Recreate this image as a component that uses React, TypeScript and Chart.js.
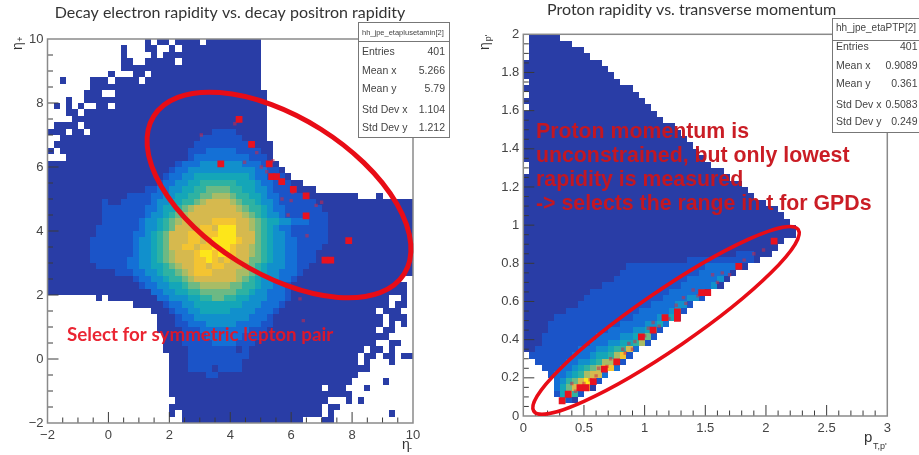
import React, { useEffect, useRef } from "react";
import { Chart, registerables } from "chart.js";
Chart.register(...registerables);

// colour levels of the heat map, low to high
const levelColors = ["#293da6","#1b54c8","#1470d6","#1190cc","#14a6b8","#2eb2a2","#6cb984","#a8bc66","#d6b94e","#f3c432","#fde61a"];

// each row, top to bottom: "firstBin:level" runs, x = empty
const leftRows = [
"16:0 17:x 18:0 20:x 21:0 25:x 26:0 35:x",
"12:0 13:x 16:0 18:x 20:0 21:x 22:0 35:x",
"12:0 13:x 17:0 18:x 19:0 35:x",
"12:0 14:x 16:0 21:x 22:0 35:x",
"12:0 35:x",
"10:0 11:x 14:0 16:x 17:0 35:x",
"2:0 3:x 7:0 10:x 11:0 15:x 16:0 35:x",
"7:0 35:x",
"6:0 9:x 11:0 36:x",
"3:0 4:x 6:0 36:x",
"1:0 2:x 3:0 4:x 5:0 6:x 8:0 10:x 11:0 36:x",
"3:0 5:x 6:0 36:x",
"4:0 36:x",
"1:0 5:x 6:0 36:x",
"0:0 3:x 4:0 6:x 7:0 27:1 31:0 36:x",
"2:0 25:1 32:0 36:x",
"1:0 24:1 33:0 37:x",
"0:0 1:x 2:0 23:1 26:2 31:1 35:0 37:x",
"3:0 23:1 24:2 33:1 36:0 37:x",
"0:0 21:1 22:2 25:3 32:2 35:1 37:0 38:x",
"0:0 20:1 21:2 23:3 34:2 36:1 38:0 39:x",
"0:0 19:1 20:2 22:3 24:4 33:3 34:2 36:1 39:0 40:x",
"0:0 18:1 19:2 21:3 23:4 25:5 31:4 34:3 35:2 37:1 40:0 42:x",
"0:0 16:1 18:2 20:3 22:4 24:5 26:6 30:5 32:4 34:3 36:2 37:1 41:0 44:x",
"0:0 13:1 17:2 19:3 21:4 23:5 25:6 27:7 30:6 31:5 33:4 35:3 36:2 38:1 43:0 51:x 54:0 55:x",
"0:0 9:1 10:0 12:1 17:2 18:3 20:4 22:5 24:6 25:7 26:8 30:7 31:6 32:5 34:4 35:3 37:2 38:1 44:0",
"0:0 9:1 16:2 18:3 19:4 21:5 22:6 23:7 24:8 31:7 32:6 33:5 35:4 36:3 37:2 39:1 45:0",
"0:0 9:1 16:2 17:3 19:4 20:5 21:6 22:7 23:8 32:7 33:6 34:5 35:4 36:3 38:2 39:1 46:0",
"0:0 9:1 15:2 16:3 18:4 19:5 20:6 21:7 22:8 27:9 31:8 33:7 34:6 35:5 36:4 38:3 40:2 43:1 46:0",
"0:0 8:1 15:2 16:3 18:4 19:5 20:6 21:8 25:9 27:8 28:10 31:8 33:7 34:6 35:5 36:4 37:3 38:2 40:1 46:0",
"0:0 8:1 14:2 16:3 17:4 18:5 19:6 20:8 23:9 28:10 31:8 34:6 35:5 36:4 37:3 39:2 40:1 46:0",
"0:0 7:1 14:2 15:3 17:4 18:5 19:6 20:8 23:9 25:8 26:9 27:10 31:9 32:8 34:6 35:5 36:4 37:3 39:2 41:1 46:0",
"0:0 7:1 14:2 15:3 17:4 18:5 19:6 20:8 22:9 24:8 25:9 27:10 30:9 31:8 33:7 34:6 35:5 36:4 37:3 39:2 41:1 45:0",
"0:0 7:1 14:2 15:3 17:4 18:5 19:6 20:7 21:8 24:9 25:10 27:9 28:10 30:9 31:8 33:7 34:6 35:5 36:4 37:3 39:2 41:1 44:0",
"0:0 7:1 13:2 15:3 17:4 18:5 19:6 20:7 21:8 24:9 26:10 27:9 28:8 29:9 30:8 33:6 35:5 36:4 37:3 39:2 41:1 44:0",
"0:0 8:1 13:2 15:3 17:4 19:5 20:6 21:7 22:8 24:9 26:8 27:9 29:8 32:7 33:6 34:5 35:4 36:3 39:2 41:1 43:0",
"0:0 11:1 14:2 16:3 18:4 19:5 21:6 22:7 23:8 24:9 27:8 31:7 33:6 34:5 35:4 36:3 38:2 41:1 42:0",
"0:0 14:1 15:2 17:3 19:4 20:5 22:6 23:7 24:8 31:7 32:6 33:5 34:4 35:3 38:2 40:1 41:0 58:x",
"0:0 15:1 16:2 18:3 20:4 22:5 23:6 25:7 30:6 32:5 34:4 35:3 37:2 39:1 40:0 59:x",
"0:0 17:2 19:3 21:4 23:5 25:6 31:5 33:4 34:3 36:2 39:1 40:0 59:x",
"8:0 9:x 10:0 18:2 20:3 23:4 25:5 27:6 29:5 31:4 33:3 36:2 39:1 40:0 56:x 58:0 59:x",
"14:0 19:1 20:2 22:3 24:4 32:3 35:2 38:1 39:0 56:x 57:0 59:x",
"17:0 20:1 21:2 23:3 25:4 30:3 34:2 37:1 38:0 54:x 55:0 58:x",
"18:0 21:1 22:2 24:3 33:2 36:1 37:0 55:x 56:0 59:x",
"18:0 21:1 23:2 26:3 31:2 35:1 37:0 55:x 56:0 57:x 58:0 59:x",
"18:0 22:1 25:2 33:1 36:0 54:x 55:0 57:x",
"19:0 22:1 26:2 32:1 35:0 56:x",
"19:0 22:1 27:2 31:1 34:0 54:x 56:0 58:x",
"19:0 23:1 31:0 32:1 33:0 52:x 53:0 55:x 56:0 57:x",
"20:0 23:1 33:0 51:x 52:0 54:x 55:0 57:x 58:0",
"20:0 23:1 32:0 51:x 52:0 53:x 56:0 57:x",
"20:0 23:1 27:0 28:1 32:0 53:x",
"20:0 26:1 28:0 51:x",
"20:0 50:x 55:0 56:x",
"20:0 45:x 46:0 49:x 52:0 53:x",
"20:0 50:x",
"21:0 46:x 49:0 50:x 51:0 52:x",
"20:0 45:x 46:0 48:x",
"20:0 21:x 22:0 45:x 46:0 47:x 56:0 57:x",
"22:0 42:x 45:0 47:x",
];

const rightRows = [
"1:0 6:x","1:0 8:x","1:0 10:x","1:0 11:x","0:0 13:x","0:0 14:x","0:0 15:x","1:0 16:x","0:0 18:x","1:0 19:x",
"0:0 20:x","1:0 21:x","0:0 22:x","0:0 23:x","0:0 25:x","0:0 26:x","0:0 27:x","0:0 28:x","0:0 29:x","0:0 30:x",
"1:0 31:x","1:0 33:x","0:0 34:x","0:0 36:x","0:0 37:x","0:0 38:x","0:0 40:x","0:0 42:x","0:0 43:x","0:0 44:x",
"0:0 45:x","0:0 45:x","0:0 43:x","0:0 42:x","0:0 35:1 38:0 41:x",
"0:0 27:1 38:0 39:x",
"0:0 17:1 30:2 36:0 37:x",
"0:0 16:1 29:2 34:0 35:x",
"0:0 15:1 27:2 32:3 33:0 34:x",
"0:0 13:1 26:2 31:3 32:0 33:x",
"0:0 11:1 24:2 29:3 30:0 31:x",
"0:0 10:1 23:2 27:3 29:1 30:x",
"0:0 9:1 21:2 25:3 27:1 28:x",
"0:0 7:1 19:2 24:3 25:4 26:1 27:x",
"0:0 5:1 18:2 22:3 24:4 25:1 26:x",
"0:0 4:1 16:2 20:3 22:4 23:2 24:x",
"0:0 4:1 14:2 18:3 20:4 21:5 22:1 23:x",
"0:0 3:1 12:2 16:3 18:4 19:5 20:6 21:1 22:x",
"0:0 3:1 11:2 14:3 16:4 18:5 19:7 20:1 21:x",
"0:0 2:1 9:2 12:3 14:4 15:5 17:8 18:2 19:x",
"1:1 8:2 11:3 12:4 14:5 15:7 16:9 17:1 18:x",
"2:1 7:2 9:3 11:4 12:5 13:7 15:9 16:1 17:x",
"3:1 6:2 8:3 9:4 10:5 11:6 12:7 13:9 15:2 16:x",
"4:1 5:2 7:3 8:4 9:5 10:7 11:8 13:2 14:x",
"5:2 6:3 7:5 8:6 9:8 10:10 11:8 12:1 13:x",
"5:2 6:4 7:6 8:8 9:9 11:0 12:x",
"5:1 6:4 7:7 8:5 9:1 10:x",
"6:4 7:1 8:0 9:x",
];

// red event markers
const leftEventsX = [4.29,4.7,3.69,5.28,5.36,5.52,5.69,6.07,6.49,6.49,7.89,7.11,7.3];
const leftEventsY = [7.49,6.71,6.1,6.1,5.7,5.7,5.54,5.3,5.1,4.47,3.7,3.09,3.09];
const leftFaintX = [4.87,4.47,5.02,5.4,6.0,6.05,6.82,5.9,3.05,4.15,6.52,6.29,6.4,5.2,5.7,7.0];
const leftFaintY = [6.45,6.15,6.0,6.2,4.95,5.2,4.8,4.5,7.0,7.35,3.85,1.88,1.2,5.85,5.0,4.9];
const rightEventsX = [0.32,0.37,0.467,0.517,0.577,0.668,0.77,0.973,1.07,1.168,1.27,1.27,1.47,1.52,1.776,2.067];
const rightEventsY = [0.08,0.114,0.148,0.148,0.18,0.246,0.284,0.415,0.45,0.515,0.546,0.511,0.647,0.647,0.784,0.916];
const rightFaintX = [0.87,0.82,1.07,1.26,1.32,1.56,1.64,0.62,0.4,1.82,1.98,0.72,0.92,1.4,0.55,1.12,0.5,0.6,0.69,0.84,0.9,1.0,1.03,1.2,1.34,1.44,1.6,1.7,1.9,0.43];
const rightFaintY = [0.38,0.35,0.49,0.58,0.62,0.74,0.75,0.25,0.17,0.817,0.87,0.3,0.39,0.66,0.19,0.47,0.17,0.21,0.26,0.33,0.35,0.42,0.46,0.51,0.59,0.63,0.7,0.74,0.85,0.13];

const leftTitle = "Decay electron rapidity vs. decay positron rapidity";
const rightTitle = "Proton rapidity vs. transverse momentum";
const leftNote = ["Select for symmetric lepton pair"];
const rightNote = ["Proton momentum is","unconstrained, but only lowest","rapidity is measured","-> selects the range in t for GPDs"];
const leftStats = [["Entries","401"],["Mean x","5.266"],["Mean y","5.79"],["Std Dev x","1.104"],["Std Dev y","1.212"]];
const rightStats = [["Entries","401"],["Mean x","0.9089"],["Mean y","0.361"],["Std Dev x","0.5083"],["Std Dev y","0.249"]];

function cellsFrom(rows: string[], x0: number, dx: number, yTop: number, dy: number) {
  const data: any[] = [], colors: string[] = [];
  rows.forEach((row, r) => {
    const toks = row.split(" ").map((t) => t.split(":"));
    toks.forEach(([s, l], i) => {
      if (l === "x") return;
      const end = i + 1 < toks.length ? +toks[i + 1][0] : 60;
      for (let b = +s; b < end; b++) {
        data.push({ x: x0 + dx * (b + 0.5), y: yTop - dy * (r + 0.5) });
        colors.push(levelColors[+l]);
      }
    });
  });
  return { data, colors };
}
const zip = (a: number[], b: number[]) => a.map((x, i) => ({ x, y: b[i] }));

function overlay(c: any) {
  return {
    id: "overlay",
    // heat cells: use the points the library placed, snapped to whole pixels so no seams show
    beforeDatasetDraw(chart: any, args: any) {
      if (args.index !== 0) return true;
      const { ctx } = chart;
      const els = args.meta.data;
      const cols = chart.data.datasets[0].pointBackgroundColor;
      const w = (chart.chartArea.right - chart.chartArea.left) / 60;
      const h = (chart.chartArea.bottom - chart.chartArea.top) / 60;
      els.forEach((el: any, i: number) => {
        const x0 = Math.round(el.x - w / 2), x1 = Math.round(el.x + w / 2);
        const y0 = Math.round(el.y - h / 2), y1 = Math.round(el.y + h / 2);
        ctx.fillStyle = cols[i];
        ctx.fillRect(x0, y0, x1 - x0, y1 - y0);
      });
      return false;
    },
    afterDatasetsDraw(chart: any) {
      const { ctx, chartArea: a, scales: { x, y } } = chart;
      ctx.save();
      // inward ticks
      ctx.strokeStyle = "#3a3a3a"; ctx.lineWidth = 1;
      const line = (x1: number, y1: number, x2: number, y2: number) => { ctx.beginPath(); ctx.moveTo(x1, y1); ctx.lineTo(x2, y2); ctx.stroke(); };
      for (let i = 0; i <= c.xN; i++) {
        const v = c.xMin + (i * (c.xMax - c.xMin)) / c.xN;
        if (i > 0 && i < c.xN) { const p = x.getPixelForValue(v); line(p, a.bottom, p, a.bottom - (i % c.xM === 0 ? 11 : 5.5)); }
      }
      for (let i = 0; i <= c.yN; i++) {
        const v = c.yMin + (i * (c.yMax - c.yMin)) / c.yN;
        if (i > 0 && i < c.yN) { const p = y.getPixelForValue(v); line(a.left, p, a.left + (i % c.yM === 0 ? 11 : 5.5), p); }
      }
      ctx.strokeStyle = "#8a8a8a"; ctx.lineWidth = 1.5;
      ctx.strokeRect(a.left, a.top, a.right - a.left, a.bottom - a.top);
      // ellipse
      ctx.strokeStyle = "#e80c16"; ctx.lineWidth = c.ew;
      ctx.beginPath();
      ctx.ellipse(x.getPixelForValue(c.ex), y.getPixelForValue(c.ey), c.ea, c.eb, c.et, 0, Math.PI * 2);
      ctx.stroke();
      // note
      ctx.fillStyle = c.noteColor; ctx.font = c.noteFont; ctx.textBaseline = "middle"; ctx.textAlign = "left";
      c.note.forEach((t: string, i: number) => ctx.fillText(t, c.noteX, c.noteY + i * c.noteStep));
      // axis symbols
      ctx.fillStyle = "#333";
      c.axisText(ctx);
      // stats box
      const b = c.box;
      ctx.fillStyle = "#fff"; ctx.strokeStyle = "#777"; ctx.lineWidth = 1;
      ctx.fillRect(b.x, b.y, b.w, b.h); ctx.strokeRect(b.x, b.y, b.w, b.h);
      line(b.x, b.sep, b.x + b.w, b.sep);
      ctx.fillStyle = "#444"; ctx.font = b.headFont; ctx.textAlign = "left";
      ctx.fillText(b.head, b.x + 3.5, b.headY);
      ctx.font = '10.5px "Liberation Sans"';
      c.stats.forEach((s: string[], i: number) => {
        ctx.textAlign = "left"; ctx.fillText(s[0], b.x + 3.5, b.rows[i]);
        ctx.textAlign = "right"; ctx.fillText(s[1], b.valX, b.rows[i]);
      });
      ctx.restore();
    },
  };
}

function build(canvas: HTMLCanvasElement, o: any) {
  const heat = cellsFrom(o.rows, o.xMin, (o.xMax - o.xMin) / 60, o.yMax, (o.yMax - o.yMin) / 60);
  const fmt = (v: any) => { const n = +(+v).toFixed(1); return n < 0 ? "\u2212" + Math.abs(n) : String(n); };
  const scales: any = {
    x: {
      type: "linear", min: o.xMin, max: o.xMax,
      afterFit: (s: any) => { s.height = o.xH; },
      grid: { display: false, drawTicks: false }, border: { display: false },
      ticks: { stepSize: o.xStep, maxRotation: 0, autoSkip: false, padding: 4.5, color: "#444", font: { family: "Liberation Sans", size: 13 }, callback: fmt },
    },
    y: {
      type: "linear", min: o.yMin, max: o.yMax,
      afterFit: (s: any) => { s.width = o.yW; },
      grid: { display: false, drawTicks: false }, border: { display: false },
      ticks: { stepSize: o.yStep, autoSkip: false, padding: 4, color: "#444", font: { family: "Liberation Sans", size: 13 }, callback: fmt },
    },
  };
  if (o.spacer) {
    // empty right-hand axis: it holds the margin beside the plot, so the title stays centred on the canvas
    scales.spacer = {
      type: "linear", position: "right", min: o.yMin, max: o.yMax,
      afterFit: (s: any) => { s.width = o.spacer; },
      grid: { display: false, drawTicks: false }, border: { display: false }, ticks: { display: false },
    };
  }
  return new Chart(canvas, {
    type: "scatter",
    data: {
      datasets: [
        { data: heat.data, pointBackgroundColor: heat.colors, pointStyle: "rect", pointRadius: 4.6, pointBorderWidth: 0, order: 3 },
        { data: o.faint, pointBackgroundColor: "rgba(205,40,70,0.55)", pointStyle: "rect", pointRadius: 2.4, pointBorderWidth: 0, order: 2 },
        { data: o.events, pointBackgroundColor: "#e8121f", pointStyle: "rect", pointRadius: 4.8, pointBorderWidth: 0, order: 1 },
      ],
    } as any,
    options: {
      animation: false, responsive: false, events: [],
      layout: { padding: o.padding },
      plugins: {
        legend: { display: false }, tooltip: { enabled: false },
        title: { display: true, text: o.title, color: "#333", font: { family: "Lato", size: o.titleSize, weight: "normal", lineHeight: 1.2 }, padding: o.titlePad },
      },
      scales,
    } as any,
    plugins: [overlay(o.ov)],
  });
}

export default function App() {
  const a = useRef<HTMLCanvasElement>(null);
  const b = useRef<HTMLCanvasElement>(null);
  useEffect(() => {
    const left = build(a.current!, {
      rows: leftRows, xMin: -2, xMax: 10, yMin: -2, yMax: 10, xStep: 2, yStep: 2, title: leftTitle, titleSize: 16,
      titlePad: { top: 3.5, bottom: 16.3 }, padding: { left: 0, right: 0, top: 0, bottom: 0 }, xH: 32, yW: 47.5, spacer: 47,
      events: zip(leftEventsX, leftEventsY), faint: zip(leftFaintX, leftFaintY),
      ov: {
        xMin: -2, xMax: 10, xN: 24, xM: 4, yMin: -2, yMax: 10, yN: 24, yM: 4,
        ex: 5.6, ey: 5.125, ea: 148, eb: 78, et: 0.562, ew: 5,
        note: leftNote, noteX: 67, noteY: 335, noteStep: 0, noteColor: "rgba(232,20,34,0.93)", noteFont: 'bold 18.8px Lato',
        stats: leftStats,
        box: { x: 358.5, y: 22.5, w: 91, h: 115, sep: 41.5, head: "hh_jpe_etaplusetamin[2]", headFont: '7.5px "Liberation Sans"', headY: 33, rows: [52, 71.5, 89.5, 110, 128.5], valX: 445 },
        axisText(ctx: any) {
          ctx.save(); ctx.translate(18, 46); ctx.rotate(-Math.PI / 2); ctx.textAlign = "center";
          ctx.font = '14px "Liberation Sans"'; ctx.fillText("\u03B7", 0, 0);
          ctx.font = '9px "Liberation Sans"'; ctx.fillText("+", 7, 3); ctx.restore();
          ctx.textAlign = "left"; ctx.font = '14px "Liberation Sans"'; ctx.fillText("\u03B7", 402, 445);
          ctx.font = '9px "Liberation Sans"'; ctx.fillText("-", 409, 449);
        },
      },
    });
    const right = build(b.current!, {
      rows: rightRows, xMin: 0, xMax: 3, yMin: 0, yMax: 2, xStep: 0.5, yStep: 0.2, title: rightTitle, titleSize: 16,
      titlePad: { top: 0.5, bottom: 14.6 }, padding: { left: 34, right: 31.7, top: 0, bottom: 0 }, xH: 39, yW: 27.3,
      events: zip(rightEventsX, rightEventsY), faint: zip(rightFaintX, rightFaintY),
      ov: {
        xMin: 0, xMax: 3, xN: 30, xM: 5, yMin: 0, yMax: 2, yN: 40, yM: 4,
        ex: 1.176, ey: 0.501, ea: 160.4, eb: 28.6, et: -0.602, ew: 3.6,
        note: rightNote, noteX: 74, noteY: 132, noteStep: 24.1, noteColor: "rgba(200,22,30,0.97)", noteFont: 'bold 21.3px "Liberation Sans"',
        stats: rightStats,
        box: { x: 370.5, y: 18.5, w: 90, h: 114, sep: 40.5, head: "hh_jpe_etaPTP[2]", headFont: '10px "Liberation Sans"', headY: 28.5, rows: [47.5, 66.5, 84.5, 105, 122.5], valX: 455.5 },
        axisText(ctx: any) {
          ctx.save(); ctx.translate(23, 46); ctx.rotate(-Math.PI / 2); ctx.textAlign = "center";
          ctx.font = '14px "Liberation Sans"'; ctx.fillText("\u03B7", 0, 0);
          ctx.font = '9px "Liberation Sans"'; ctx.fillText("p'", 8, 4); ctx.restore();
          ctx.textAlign = "left"; ctx.font = '15px "Liberation Sans"'; ctx.fillText("p", 402, 438);
          ctx.font = '9px "Liberation Sans"'; ctx.fillText("T,p'", 411, 447);
        },
      },
    });
    return () => { left.destroy(); right.destroy(); };
  }, []);
  return (
    <div style={{ position: "fixed", left: 0, top: 0, width: 919, height: 455, overflow: "hidden", background: "#fff", filter: "blur(0.55px)" }}>
      <canvas ref={a} width={460} height={455} style={{ position: "absolute", left: 0, top: 0 }} />
      <canvas ref={b} width={457} height={455} style={{ position: "absolute", left: 462, top: 0 }} />
    </div>
  );
}
